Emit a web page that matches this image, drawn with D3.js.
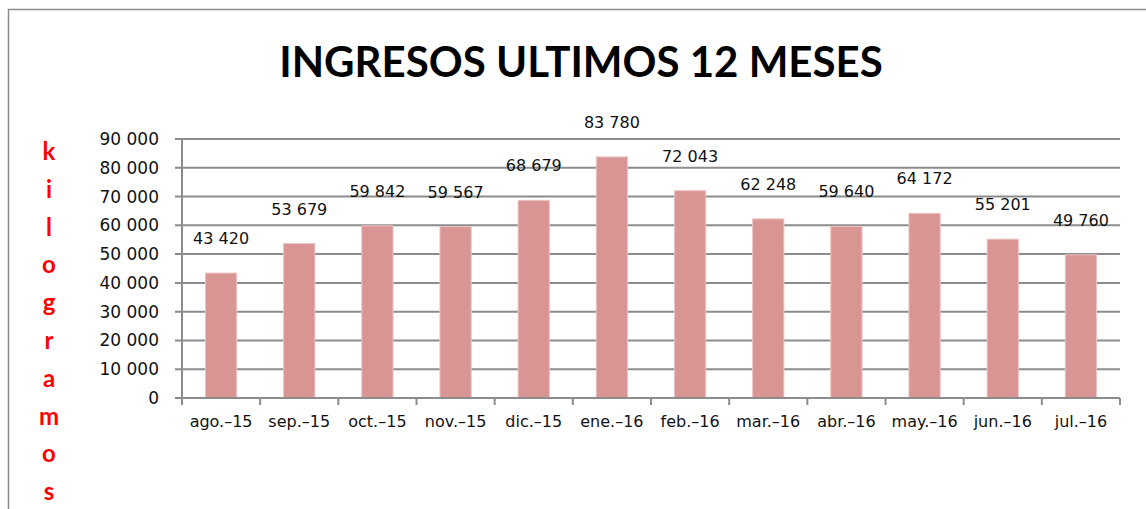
<!DOCTYPE html>
<html>
<head>
<meta charset="utf-8">
<script src="https://cdn.jsdelivr.net/npm/d3@7"></script>
<style>
  body { margin: 0; background: #fff; }
  svg { display: block; }
</style>
</head>
<body>
<svg width="1146" height="509"></svg>
<script>
// datos del gráfico
var meses = ["ago.\u201315", "sep.\u201315", "oct.\u201315", "nov.\u201315", "dic.\u201315", "ene.\u201316",
             "feb.\u201316", "mar.\u201316", "abr.\u201316", "may.\u201316", "jun.\u201316", "jul.\u201316"];
var kilos = [43420, 53679, 59842, 59567, 68679, 83780, 72043, 62248, 59640, 64172, 55201, 49760];
var yTicks = [0, 10000, 20000, 30000, 40000, 50000, 60000, 70000, 80000, 90000];
var titulo = "INGRESOS ULTIMOS 12 MESES";
var ejeY = "kilogramos";

var svg = d3.select("svg");
var plotLeft = 182, plotRight = 1120, plotTop = 139, plotBottom = 398;
var gris = "#8c8c8c";

var fmt = d3.formatLocale({ decimal: ",", thousands: " ", grouping: [3], currency: ["", ""] }).format(",d");

//marco exterior
svg.append("rect")
    .attr("x", 8.5).attr("y", 9.5)
    .attr("width", 1200).attr("height", 600)
    .attr("fill", "none")
    .attr("stroke", gris)
    .attr("stroke-width", 1.5);

//título
svg.append("text")
    .attr("x", 581).attr("y", 77)
    .attr("text-anchor", "middle")
    .attr("font-family", "Lato, 'Open Sans', sans-serif")
    .attr("font-weight", "bold")
    .attr("font-size", 42)
    .attr("fill", "#000")
    .text(titulo);

var x = d3.scaleBand().domain(meses).range([plotLeft, plotRight]).paddingInner(0.6).paddingOuter(0.3);
var y = d3.scaleLinear().domain([0, 90000]).range([plotBottom, plotTop]);

//líneas de cuadrícula
svg.append("g")
    .selectAll("line")
    .data(yTicks)
    .join("line")
    .attr("x1", plotLeft - 7).attr("x2", plotRight)
    .attr("y1", function(d) { return y(d); })
    .attr("y2", function(d) { return y(d); })
    .attr("stroke", gris)
    .attr("stroke-width", 2);

//eje Y
var gy = svg.append("g")
    .attr("transform", "translate(" + plotLeft + ",0)")
    .call(d3.axisLeft(y).tickValues(yTicks).tickFormat(fmt).tickSize(7).tickPadding(16));
gy.select(".domain").remove();
gy.selectAll("line").remove();
gy.selectAll("text")
    .attr("font-family", "'DejaVu Sans', sans-serif")
    .attr("font-size", 17)
    .attr("fill", "#111");

//barras
svg.append("g")
    .selectAll("rect")
    .data(kilos)
    .join("rect")
    .attr("x", function(d, i) { return x(meses[i]); })
    .attr("y", function(d) { return y(d); })
    .attr("width", x.bandwidth())
    .attr("height", function(d) { return y(0) - y(d); })
    .attr("fill", "#d99594")
    .attr("stroke", "#ecc4c3")
    .attr("stroke-width", 1);

//eje X
var step = x.step();
var bordes = d3.range(meses.length + 1).map(function(i) { return plotLeft + i * step; });
svg.append("line")
    .attr("x1", plotLeft).attr("x2", plotRight)
    .attr("y1", plotBottom).attr("y2", plotBottom)
    .attr("stroke", gris).attr("stroke-width", 2);
svg.append("line")
    .attr("x1", plotLeft).attr("x2", plotLeft)
    .attr("y1", plotTop).attr("y2", plotBottom + 7)
    .attr("stroke", gris).attr("stroke-width", 2);
svg.append("g")
    .selectAll("line")
    .data(bordes)
    .join("line")
    .attr("x1", function(d) { return d; }).attr("x2", function(d) { return d; })
    .attr("y1", plotBottom).attr("y2", plotBottom + 7)
    .attr("stroke", gris).attr("stroke-width", 2);

var gx = svg.append("g")
    .attr("transform", "translate(0," + plotBottom + ")")
    .call(d3.axisBottom(x).tickSize(0).tickPadding(18));
gx.select(".domain").remove();
gx.selectAll("text")
    .attr("font-family", "'DejaVu Sans', sans-serif")
    .attr("font-size", 16)
    .attr("fill", "#111");

//etiquetas de datos
svg.append("g")
    .selectAll("text")
    .data(kilos)
    .join("text")
    .attr("x", function(d, i) { return x(meses[i]) + x.bandwidth() / 2; })
    .attr("y", function(d) { return y(d) - 29; })
    .attr("text-anchor", "middle")
    .attr("font-family", "'DejaVu Sans', sans-serif")
    .attr("font-size", 16)
    .attr("fill", "#111")
    .text(function(d) { return fmt(d); });

//título del eje Y, letra por letra
svg.append("g")
    .selectAll("text")
    .data(ejeY.split(""))
    .join("text")
    .attr("x", 49)
    .attr("y", function(d, i) { return 160 + i * 37.8; })
    .attr("text-anchor", "middle")
    .attr("font-family", "Lato, 'Open Sans', sans-serif")
    .attr("font-weight", "bold")
    .attr("font-size", 24)
    .attr("fill", "#ff0000")
    .text(function(d) { return d; });
</script>
</body>
</html>
